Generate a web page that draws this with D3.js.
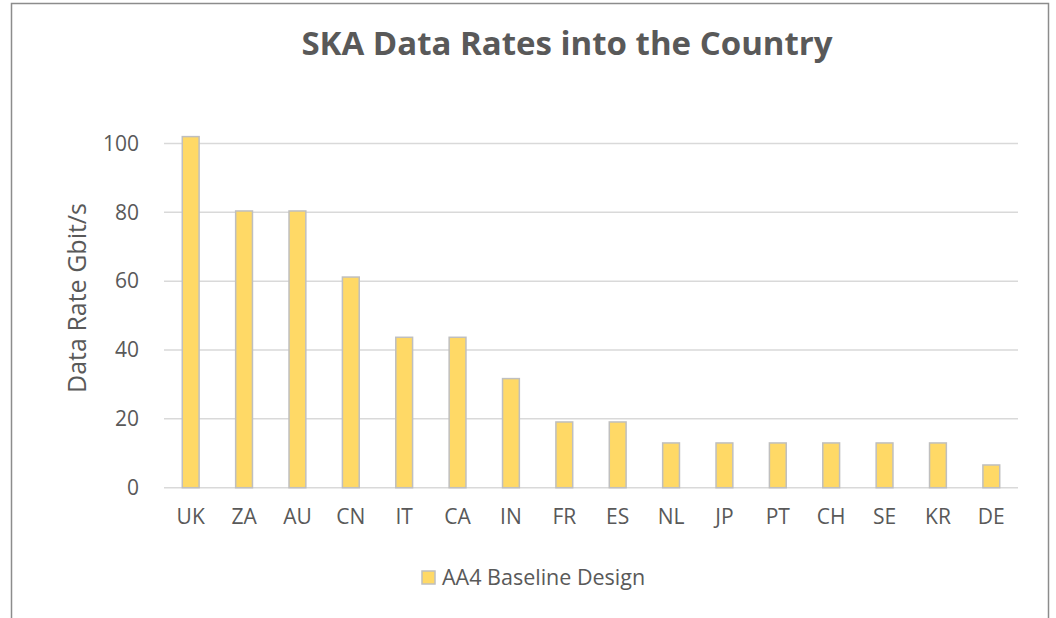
<!DOCTYPE html>
<html>
<head>
<meta charset="utf-8">
<script src="https://cdn.jsdelivr.net/npm/d3@7"></script>
<style>
  body { margin: 0; background: #fff; }
  text { font-family: "Open Sans", "Noto Sans", sans-serif; fill: #595959; }
</style>
</head>
<body>
<svg id="chart" width="1056" height="618"></svg>
<script>
var countries = ['UK', 'ZA', 'AU', 'CN', 'IT', 'CA', 'IN', 'FR', 'ES', 'NL', 'JP', 'PT', 'CH', 'SE', 'KR', 'DE'];
var rates = [102, 80.4, 80.4, 61.2, 43.7, 43.7, 31.7, 19.1, 19.1, 13, 13, 13, 13, 13, 13, 6.6];
var yTicks = [0, 20, 40, 60, 80, 100];
var seriesName = 'AA4 Baseline Design';

var svg = d3.select('#chart');

// chart frame (bottom runs off the picture)
svg.append('rect')
  .attr('x', 11.5).attr('y', 3.5)
  .attr('width', 1037).attr('height', 640)
  .attr('fill', 'none')
  .attr('stroke', '#8c8c8c')
  .attr('stroke-width', 1.5);

var x = d3.scaleBand()
  .domain(countries)
  .range([164, 1018])
  .paddingInner(0.685)
  .paddingOuter(0.3425);

var y = d3.scaleLinear()
  .domain([0, 100])
  .range([487.7, 143.5]);

// gridlines
svg.append('g')
  .selectAll('line')
  .data(yTicks)
  .enter().append('line')
  .attr('x1', 164).attr('x2', 1018)
  .attr('y1', function (d) { return y(d); })
  .attr('y2', function (d) { return y(d); })
  .attr('stroke', '#d9d9d9')
  .attr('stroke-width', 1.5);

// y axis labels
var yAxis = d3.axisLeft(y).tickValues(yTicks).tickSize(0).tickPadding(25);
svg.append('g')
  .attr('transform', 'translate(164,0)')
  .call(yAxis)
  .call(function (g) { g.select('.domain').remove(); })
  .selectAll('text')
  .attr('font-size', 21)
  .attr('fill', '#595959')
  .style('font-family', '"Open Sans", sans-serif');

// bars
svg.append('g')
  .selectAll('rect')
  .data(rates)
  .enter().append('rect')
  .attr('x', function (d, i) { return x(countries[i]); })
  .attr('y', function (d) { return y(d); })
  .attr('width', x.bandwidth())
  .attr('height', function (d) { return y(0) - y(d); })
  .attr('fill', '#ffd966')
  .attr('stroke', '#bfbfbf')
  .attr('stroke-width', 1.5);

// x axis labels
var xAxis = d3.axisBottom(x).tickSize(0).tickPadding(21);
svg.append('g')
  .attr('transform', 'translate(0,' + y(0) + ')')
  .call(xAxis)
  .call(function (g) { g.select('.domain').remove(); })
  .selectAll('text')
  .attr('font-size', 21)
  .attr('fill', '#595959')
  .style('font-family', '"Open Sans", sans-serif');

// title
svg.append('text')
  .attr('x', 567).attr('y', 55)
  .attr('text-anchor', 'middle')
  .attr('font-size', 33)
  .attr('font-weight', 'bold')
  .text('SKA Data Rates into the Country');

// y axis title
svg.append('text')
  .attr('transform', 'translate(86,298) rotate(-90)')
  .attr('text-anchor', 'middle')
  .attr('font-size', 25)
  .text('Data Rate Gbit/s');

// legend
svg.append('rect')
  .attr('x', 422).attr('y', 571)
  .attr('width', 13).attr('height', 13)
  .attr('fill', '#ffd966')
  .attr('stroke', '#bfbfbf')
  .attr('stroke-width', 1.5);
svg.append('text')
  .attr('x', 442).attr('y', 585)
  .attr('font-size', 21.5)
  .text(seriesName);
</script>
</body>
</html>
